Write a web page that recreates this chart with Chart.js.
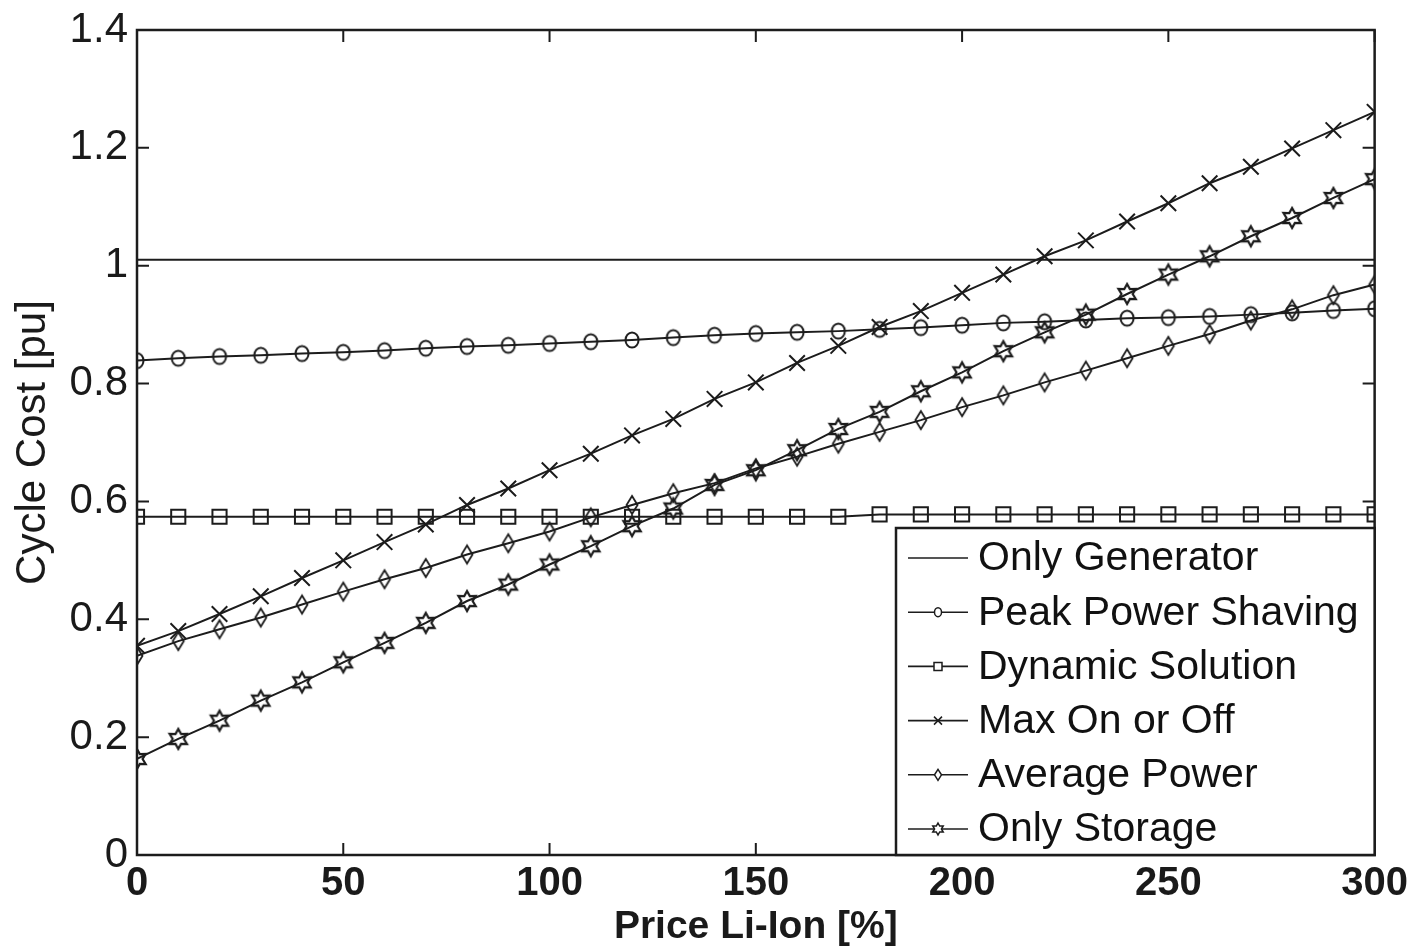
<!DOCTYPE html>
<html>
<head>
<meta charset="utf-8">
<script src="https://cdn.jsdelivr.net/npm/chart.js@4/dist/chart.umd.min.js"></script>
<style>
  html, body { margin: 0; padding: 0; background: #fff; }
  #wrap { width: 1417px; height: 951px; }
</style>
</head>
<body>
<div id="wrap"><canvas id="c" width="1417" height="951"></canvas></div>
<script>
// Li-ion price sweep [%]
const price = [0, 10, 20, 30, 40, 50, 60, 70, 80, 90, 100, 110, 120, 130, 140, 150,
  160, 170, 180, 190, 200, 210, 220, 230, 240, 250, 260, 270, 280, 290, 300];

// Cycle cost [pu] for each strategy
const onlyGenerator = [1.01, 1.01, 1.01, 1.01, 1.01, 1.01, 1.01, 1.01, 1.01, 1.01, 1.01,
  1.01, 1.01, 1.01, 1.01, 1.01, 1.01, 1.01, 1.01, 1.01, 1.01, 1.01, 1.01, 1.01, 1.01,
  1.01, 1.01, 1.01, 1.01, 1.01, 1.01];
const peakPowerShaving = [0.839, 0.843, 0.846, 0.848, 0.851, 0.853, 0.856, 0.860, 0.863, 0.865,
  0.868, 0.871, 0.874, 0.878, 0.882, 0.885, 0.887, 0.889, 0.892, 0.895,
  0.899, 0.903, 0.905, 0.908, 0.911, 0.912, 0.914, 0.917, 0.920, 0.924, 0.927];
const dynamicSolution = [0.574, 0.574, 0.574, 0.574, 0.574, 0.574, 0.574, 0.574, 0.574, 0.574,
  0.574, 0.574, 0.574, 0.574, 0.574, 0.574, 0.574, 0.574, 0.578, 0.578,
  0.578, 0.578, 0.578, 0.578, 0.578, 0.578, 0.578, 0.578, 0.578, 0.578, 0.578];
const maxOnOrOff = [0.355, 0.380, 0.409, 0.439, 0.470, 0.500, 0.531, 0.561, 0.594, 0.622,
  0.653, 0.681, 0.712, 0.740, 0.774, 0.802, 0.835, 0.864, 0.896, 0.923,
  0.954, 0.985, 1.016, 1.043, 1.075, 1.106, 1.140, 1.168, 1.199, 1.230, 1.261];
const averagePower = [0.338, 0.363, 0.383, 0.403, 0.425, 0.447, 0.468, 0.487, 0.510, 0.529,
  0.549, 0.573, 0.594, 0.614, 0.631, 0.656, 0.676, 0.698, 0.718, 0.738,
  0.760, 0.780, 0.802, 0.822, 0.843, 0.864, 0.884, 0.907, 0.926, 0.950, 0.968];
const onlyStorage = [0.163, 0.197, 0.228, 0.262, 0.293, 0.327, 0.360, 0.394, 0.431, 0.459,
  0.493, 0.524, 0.558, 0.588, 0.628, 0.653, 0.687, 0.723, 0.752, 0.787,
  0.819, 0.855, 0.887, 0.917, 0.952, 0.985, 1.016, 1.050, 1.081, 1.115, 1.147];

const seriesNames = ['Only Generator', 'Peak Power Shaving', 'Dynamic Solution',
  'Max On or Off', 'Average Power', 'Only Storage'];
const xTicks = [0, 50, 100, 150, 200, 250, 300];
const yTicks = [0, 0.2, 0.4, 0.6, 0.8, 1, 1.2, 1.4];

const INK = '#1c1c1c';
const SANS = "'Liberation Sans', Arial, sans-serif";

// marker path builders (centered at 0,0)
function pathDiamond(ctx, w, h) {
  ctx.beginPath();
  ctx.moveTo(0, -h); ctx.lineTo(w, 0); ctx.lineTo(0, h); ctx.lineTo(-w, 0); ctx.closePath();
}
function pathHexagram(ctx, ro, ri) {
  ctx.beginPath();
  for (let i = 0; i < 12; i++) {
    const a = -Math.PI / 2 + i * Math.PI / 6;
    const r = i % 2 === 0 ? ro : ri;
    const px = r * Math.cos(a), py = r * Math.sin(a);
    if (i === 0) ctx.moveTo(px, py); else ctx.lineTo(px, py);
  }
  ctx.closePath();
}
function markerCanvas(size, lw, draw) {
  const cv = document.createElement('canvas');
  cv.width = size; cv.height = size;
  const g = cv.getContext('2d');
  g.translate(size / 2, size / 2);
  g.strokeStyle = INK;
  g.lineWidth = lw;
  draw(g);
  g.stroke();
  return cv;
}
const diamondMark = markerCanvas(24, 1.8, g => pathDiamond(g, 5.5, 9));
const hexagramMark = markerCanvas(26, 2.2, g => pathHexagram(g, 10, 5.6));
const circleMark = markerCanvas(22, 2, g => { g.beginPath(); g.ellipse(0, 0, 6.5, 7.5, 0, 0, Math.PI * 2); });

const toPoints = arr => arr.map((v, i) => ({ x: price[i], y: v }));

function ds(label, data, style, radius) {
  return {
    label, data: toPoints(data),
    borderColor: INK, borderWidth: 2,
    pointStyle: style, pointRadius: radius, pointHoverRadius: radius,
    pointBorderColor: INK, pointBackgroundColor: 'rgba(0,0,0,0)', pointBorderWidth: 2,
    tension: 0, fill: false
  };
}

const datasets = [
  ds(seriesNames[0], onlyGenerator, 'circle', 0),
  ds(seriesNames[1], peakPowerShaving, circleMark, 8),
  ds(seriesNames[2], dynamicSolution, 'rect', 10),
  ds(seriesNames[3], maxOnOrOff, 'crossRot', 11),
  ds(seriesNames[4], averagePower, diamondMark, 9),
  ds(seriesNames[5], onlyStorage, hexagramMark, 10)
];

// frame around the axes and inward-pointing tick marks on all four sides
const framePlugin = {
  id: 'frame',
  afterDatasetsDraw(chart) {
    const { ctx, chartArea: a, scales } = chart;
    ctx.save();
    ctx.strokeStyle = INK;
    ctx.lineWidth = 2;
    ctx.beginPath();
    const L = 12;
    scales.x.ticks.forEach(t => {
      const px = scales.x.getPixelForValue(t.value);
      ctx.moveTo(px, a.bottom); ctx.lineTo(px, a.bottom - L);
      ctx.moveTo(px, a.top); ctx.lineTo(px, a.top + L);
    });
    scales.y.ticks.forEach(t => {
      const py = scales.y.getPixelForValue(t.value);
      ctx.moveTo(a.left, py); ctx.lineTo(a.left + L, py);
      ctx.moveTo(a.right, py); ctx.lineTo(a.right - L, py);
    });
    ctx.stroke();
    ctx.lineWidth = 2.5;
    ctx.strokeRect(a.left, a.top, a.right - a.left, a.bottom - a.top);
    ctx.restore();
  }
};

// boxed legend in the lower right corner of the axes
const legendPlugin = {
  id: 'boxLegend',
  afterDraw(chart) {
    const { ctx, chartArea: a } = chart;
    const boxL = 896, boxT = 528;
    ctx.save();
    ctx.fillStyle = '#fff';
    ctx.fillRect(boxL, boxT, a.right - boxL, a.bottom - boxT);
    ctx.strokeStyle = INK;
    ctx.lineWidth = 2.5;
    ctx.strokeRect(boxL, boxT, a.right - boxL, a.bottom - boxT);
    ctx.font = '41px ' + SANS;
    ctx.textBaseline = 'middle';
    ctx.textAlign = 'left';
    const x0 = 908, x1 = 968, xm = 938;
    seriesNames.forEach((name, i) => {
      const y = 558 + i * 54.2;
      ctx.strokeStyle = INK;
      ctx.lineWidth = 1.6;
      ctx.beginPath(); ctx.moveTo(x0, y); ctx.lineTo(x1, y); ctx.stroke();
      ctx.save();
      ctx.translate(xm, y);
      ctx.lineWidth = 1.5;
      ctx.fillStyle = '#fff';
      if (i === 1) { ctx.beginPath(); ctx.ellipse(0, 0, 3.5, 4.5, 0, 0, Math.PI * 2); ctx.fill(); ctx.stroke(); }
      if (i === 2) { ctx.beginPath(); ctx.rect(-4, -4, 8, 8); ctx.fill(); ctx.stroke(); }
      if (i === 3) { ctx.beginPath(); ctx.moveTo(-4, -4); ctx.lineTo(4, 4); ctx.moveTo(4, -4); ctx.lineTo(-4, 4); ctx.stroke(); }
      if (i === 4) { pathDiamond(ctx, 3.5, 5.5); ctx.fill(); ctx.stroke(); }
      if (i === 5) { pathHexagram(ctx, 6, 3.4); ctx.fill(); ctx.stroke(); }
      ctx.restore();
      ctx.fillStyle = '#111';
      ctx.fillText(name, 978, y + 1);
    });
    ctx.restore();
  }
};

new Chart(document.getElementById('c'), {
  type: 'line',
  data: { datasets },
  plugins: [framePlugin, legendPlugin],
  options: {
    responsive: false,
    animation: false,
    events: [],
    layout: { padding: { top: 27, right: 39, left: 0, bottom: 0 } },
    plugins: { legend: { display: false }, tooltip: { enabled: false } },
    scales: {
      x: {
        type: 'linear', min: 0, max: 300,
        afterBuildTicks: s => { s.ticks = xTicks.map(v => ({ value: v })); },
        afterFit: s => { s.height = 96; },
        grid: { display: false, drawTicks: false },
        border: { display: false },
        ticks: {
          padding: 9, color: '#1a1a1a', maxRotation: 0,
          font: { family: SANS, size: 40, weight: 'bold', lineHeight: 1 }
        },
        title: {
          display: true, text: 'Price Li-Ion [%]', color: '#1a1a1a',
          padding: { top: 0, bottom: 4 },
          font: { family: SANS, size: 39, weight: 'bold', lineHeight: 1 }
        }
      },
      y: {
        type: 'linear', min: 0, max: 1.4,
        afterBuildTicks: s => { s.ticks = yTicks.map(v => ({ value: v })); },
        afterFit: s => { s.width = 137; },
        grid: { display: false, drawTicks: false },
        border: { display: false },
        ticks: {
          padding: 9, color: '#1a1a1a',
          font: { family: SANS, size: 42, lineHeight: 1 },
          callback: v => String(Math.round(v * 10) / 10)
        },
        title: {
          display: true, text: 'Cycle Cost [pu]', color: '#1a1a1a',
          padding: { top: 12, bottom: 0 },
          font: { family: SANS, size: 42, lineHeight: 1 }
        }
      }
    }
  }
});
</script>
</body>
</html>
